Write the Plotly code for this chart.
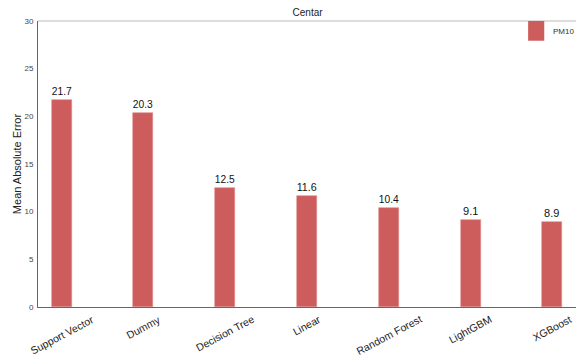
import plotly.graph_objects as go

models = ["Support Vector", "Dummy", "Decision Tree", "Linear", "Random Forest", "LightGBM", "XGBoost"]
mae_pm10 = [21.7, 20.3, 12.5, 11.6, 10.4, 9.1, 8.9]
y_ticks = [0, 5, 10, 15, 20, 25, 30]
series_name = "PM10"
bar_color = "#CD5C5C"

fig = go.Figure()
fig.add_trace(go.Bar(
    x=list(range(len(models))), y=mae_pm10, name=series_name,
    marker=dict(color=bar_color, line=dict(color="#e08a8a", width=0.6)),
    width=0.245,
    text=[f"{v:.1f}" for v in mae_pm10], textposition="outside",
    textfont=dict(family="Liberation Sans, Arial", size=11, color="#111"),
    cliponaxis=False, showlegend=False,
))

fig.update_layout(
    width=576, height=358,
    margin=dict(l=38, r=0, t=21, b=51),
    plot_bgcolor="white", paper_bgcolor="white",
    font=dict(family="Liberation Sans, Arial", color="#333"),
    title=dict(text="Centar", x=0.534, xanchor="center", y=0.966, yanchor="middle",
               font=dict(size=10, color="#222")),
    xaxis=dict(
        range=[-0.29, 6.29], tickmode="array", tickvals=list(range(len(models))),
        showticklabels=False, showgrid=False,
        showline=True, linecolor="#666", linewidth=1, ticks="", zeroline=False,
    ),
    yaxis=dict(
        range=[0, 30], tickvals=y_ticks, tickfont=dict(size=8, color="#444"),
        showgrid=False, showline=True, linecolor="#666", linewidth=1, ticks="",
        zeroline=False, ticklabelstandoff=2,
        title=dict(text="Mean Absolute Error", font=dict(size=11, color="#222"), standoff=0),
    ),
    bargap=0,
)
# rotated category labels, centred under each bar
for i, name in enumerate(models):
    fig.add_annotation(text=name, x=i, xref="x", y=-0.012, yref="paper",
                       xanchor="center", yanchor="top", textangle=-28, showarrow=False,
                       font=dict(size=10.5, color="#222"))
# top frame line
fig.add_shape(type="line", xref="paper", yref="paper", x0=0, x1=1, y0=1, y1=1,
              line=dict(color="#bbb", width=1))
# legend key
fig.add_shape(type="rect", xref="paper", yref="paper", x0=0.911, x1=0.941, y0=0.931, y1=1.0,
              fillcolor=bar_color, line=dict(width=0))
fig.add_annotation(text=series_name, xref="paper", yref="paper", x=0.953, y=0.965,
                   xanchor="left", yanchor="middle", showarrow=False,
                   font=dict(size=8, color="#333"))

fig.write_html("out.html")
